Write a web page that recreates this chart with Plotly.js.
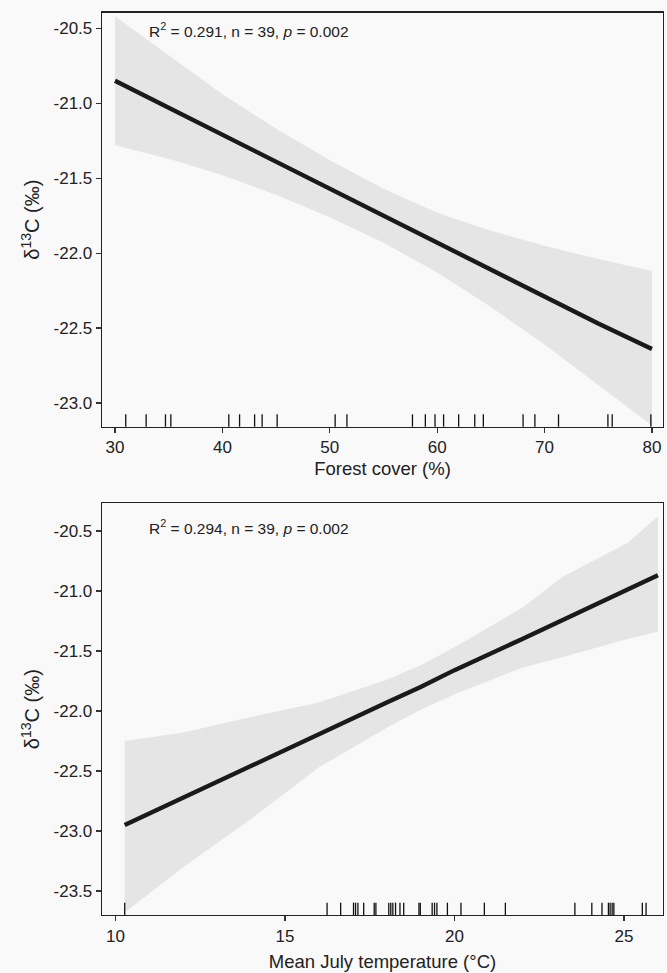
<!DOCTYPE html>
<html>
<head>
<meta charset="utf-8">
<script src="https://cdn.plot.ly/plotly-3.0.1.min.js"></script>
<style>
html,body{margin:0;padding:0;background:#f9f9f9;}
#chart{width:667px;height:973px;}
</style>
</head>
<body>
<div id="chart"></div>
<script>
// ---- Panel 1: Forest cover ----
const forestX     = [30, 35, 40, 45, 50, 55, 60, 65, 70, 75, 80];
const forestFit   = [-20.85, -21.03, -21.21, -21.39, -21.57, -21.75, -21.93, -22.11, -22.29, -22.47, -22.64];
const forestUpper = [-20.42, -20.68, -20.94, -21.17, -21.38, -21.57, -21.73, -21.85, -21.95, -22.04, -22.12];
const forestLower = [-21.28, -21.37, -21.48, -21.61, -21.76, -21.93, -22.13, -22.36, -22.61, -22.88, -23.15];
const forestRug   = [31.0, 32.9, 34.7, 35.2, 40.6, 41.6, 43.0, 43.7, 45.1, 50.5, 51.6, 57.7, 58.9, 59.8, 60.6, 62.0, 63.5, 64.3, 68.0, 69.1, 71.3, 75.9, 76.3, 79.9];
const forestTicks = [30, 40, 50, 60, 70, 80];

// ---- Panel 2: Mean July temperature ----
const tempX     = [10.27, 12, 14, 16, 18, 19, 20, 22, 23.2, 25.1, 26.0];
const tempFit   = [-22.95, -22.72, -22.46, -22.19, -21.93, -21.80, -21.66, -21.40, -21.24, -20.99, -20.87];
const tempUpper = [-22.25, -22.18, -22.05, -21.93, -21.74, -21.62, -21.47, -21.14, -20.88, -20.60, -20.38];
const tempLower = [-23.68, -23.30, -22.90, -22.47, -22.14, -21.99, -21.86, -21.64, -21.55, -21.40, -21.34];
const tempRug   = [10.27, 16.24, 16.64, 17.02, 17.08, 17.15, 17.32, 17.63, 17.68, 18.06, 18.12, 18.18, 18.26, 18.39, 18.50, 18.95, 18.99, 19.34, 19.41, 19.48, 19.79, 20.19, 20.88, 21.50, 23.55, 24.05, 24.35, 24.54, 24.59, 24.65, 24.70, 25.54, 25.65];
const tempTicks = [10, 15, 20, 25];

const yTicks1 = [-20.5, -21.0, -21.5, -22.0, -22.5, -23.0];
const yTicks2 = [-20.5, -21.0, -21.5, -22.0, -22.5, -23.0, -23.5];

const labels1 = 'R<sup>2</sup> = 0.291, n = 39, <i>p</i> = 0.002';
const labels2 = 'R<sup>2</sup> = 0.294, n = 39, <i>p</i> = 0.002';

const W = 667, H = 973;
const px = v => v / W;
const py = v => 1 - v / H;

const bandColor = '#e5e5e5';
const lineColor = '#1a1a1a';
const FONT = 'Liberation Sans, Arial, sans-serif';

function bandTraces(xs, lo, up, fit, xa, ya) {
  return [
    {x: xs, y: lo, xaxis: xa, yaxis: ya, mode: 'lines', line: {width: 0, color: bandColor}, hoverinfo: 'skip', showlegend: false},
    {x: xs, y: up, xaxis: xa, yaxis: ya, mode: 'lines', fill: 'tonexty', fillcolor: bandColor, line: {width: 0, color: bandColor}, hoverinfo: 'skip', showlegend: false},
    {x: xs, y: fit, xaxis: xa, yaxis: ya, mode: 'lines', line: {width: 4.4, color: lineColor}, showlegend: false}
  ];
}

const data = [
  ...bandTraces(forestX, forestLower, forestUpper, forestFit, 'x', 'y'),
  ...bandTraces(tempX, tempLower, tempUpper, tempFit, 'x2', 'y2')
];

const rugShapes = [
  ...forestRug.map(v => ({type: 'line', xref: 'x', yref: 'y domain', x0: v, x1: v, y0: 0, y1: 0.03, line: {color: '#111', width: 1.3}})),
  ...tempRug.map(v => ({type: 'line', xref: 'x2', yref: 'y2 domain', x0: v, x1: v, y0: 0, y1: 0.03, line: {color: '#111', width: 1.3}}))
];

const tickFont = {family: FONT, size: 17, color: '#222'};
const titleFont = {family: FONT, size: 18.5, color: '#222'};

function xAxis(range, ticks, title, anchor, standoff) {
  return {
    range: range, tickvals: ticks, ticktext: ticks.map(String),
    domain: [px(102), px(663)], anchor: anchor,
    showgrid: false, zeroline: false,
    showline: true, linecolor: '#222', linewidth: 1.3, mirror: true,
    ticks: 'outside', ticklen: 5, tickwidth: 1.2, tickcolor: '#333',
    tickfont: tickFont,
    title: {text: title, font: titleFont, standoff: standoff}
  };
}
function yAxis(range, ticks, dom, anchor) {
  return {
    range: range, tickvals: ticks, ticktext: ticks.map(v => v.toFixed(1)),
    domain: dom, anchor: anchor,
    showgrid: false, zeroline: false,
    showline: true, linecolor: '#222', linewidth: 1.3, mirror: true,
    ticks: 'outside', ticklen: 5, tickwidth: 1.2, tickcolor: '#333',
    tickfont: tickFont,
    title: {text: 'δ<sup>13</sup>C (‰)', font: {family: FONT, size: 20, color: '#222'}, standoff: 8}
  };
}

const layout = {
  width: W, height: H,
  margin: {l: 0, r: 0, t: 0, b: 0},
  paper_bgcolor: '#f9f9f9', plot_bgcolor: '#f9f9f9',
  showlegend: false,
  xaxis: xAxis([28.79, 81.03], forestTicks, 'Forest cover (%)', 'y', 5),
  yaxis: yAxis([-23.158, -20.396], yTicks1, [py(426.7), py(12.7)], 'x'),
  xaxis2: xAxis([9.6, 26.15], tempTicks, 'Mean July temperature (°C)', 'y2', 10),
  yaxis2: yAxis([-23.70, -20.27], yTicks2, [py(915), py(503.3)], 'x2'),
  shapes: rugShapes,
  annotations: [
    {text: labels1, xref: 'paper', yref: 'paper', x: px(147), y: py(30), xanchor: 'left', yanchor: 'middle', showarrow: false, font: {family: FONT, size: 15.5, color: '#222'}},
    {text: labels2, xref: 'paper', yref: 'paper', x: px(147), y: py(527), xanchor: 'left', yanchor: 'middle', showarrow: false, font: {family: FONT, size: 15.5, color: '#222'}}
  ]
};

Plotly.newPlot('chart', data, layout, {displayModeBar: false, staticPlot: true});
</script>
</body>
</html>
